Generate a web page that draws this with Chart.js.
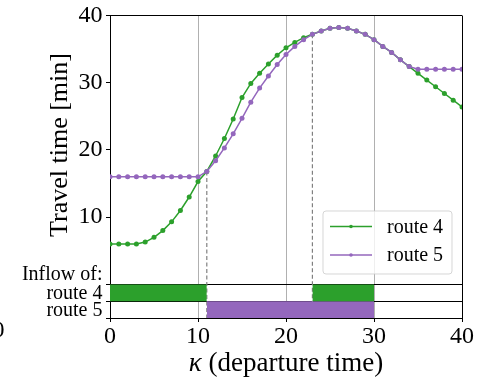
<!DOCTYPE html>
<html><head><meta charset="utf-8">
<script src="https://cdn.jsdelivr.net/npm/chart.js@4.4.1/dist/chart.umd.min.js"></script>
<style>html,body{margin:0;padding:0;background:#fff}canvas{display:block}</style>
</head><body>
<canvas id="c" width="483" height="377"></canvas>
<script>
// ---------------- data ----------------
const kappa = [0,1,2,3,4,5,6,7,8,9,10,11,12,13,14,15,16,17,18,19,20,21,22,23,24,25,26,27,28,29,30,31,32,33,34,35,36,37,38,39,40];
const route4 = [6.0,6.0,6.0,6.0,6.3,7.0,8.0,9.3,11.0,13.0,15.3,16.8,19.1,21.7,24.6,27.8,29.9,31.4,32.8,34.1,35.2,36.0,36.7,37.2,37.7,38.1,38.2,38.1,37.7,37.2,36.4,35.4,34.5,33.4,32.4,31.4,30.4,29.4,28.4,27.4,26.4];
const route5 = [16.0,16.0,16.0,16.0,16.0,16.0,16.0,16.0,16.0,16.0,16.0,16.8,18.4,20.3,22.4,24.7,27.1,29.2,31.0,32.7,34.2,35.4,36.4,37.2,37.7,38.1,38.2,38.1,37.7,37.2,36.4,35.4,34.5,33.4,32.4,32.0,32.0,32.0,32.0,32.0,32.0];
const seriesNames = ['route 4', 'route 5'];
const switchTimes = [11, 23];
const inflowRoute4 = [[0, 11], [23, 30]];
const inflowRoute5 = [[11, 30]];
const xTicks = [0, 10, 20, 30, 40];
const yTicks = [10, 20, 30, 40];
const inflowTitle = 'Inflow of:';
const inflowRows = ['route 4', 'route 5'];
const xTitleMath = 'κ';
const xTitleText = ' (departure time)';
const yTitle = 'Travel time [min]';

// ---------------- styling / layout ----------------
const GREEN = '#2ca02c', PURPLE = '#9467bd';
const FONT = '"Liberation Serif", "Times New Roman", serif';
const BAND = 2.5;          // height of one inflow row (in y units, below 0)
const YMIN = -BAND * inflowRows.length, YMAX = 40;

const rowColors = [GREEN, PURPLE];
const rowIntervals = [inflowRoute4, inflowRoute5];

// y tick spec
const yTickSpec = [];
yTickSpec.push({value: YMIN, label: '', mark: true, small: false, line: false});
for (let i = inflowRows.length - 1; i >= 0; i--) {
  yTickSpec.push({value: -(i + 0.5) * BAND - 0.2, label: inflowRows[i], mark: false, small: true, line: false});
  yTickSpec.push({value: -i * BAND, label: '', mark: true, small: false, line: true});
}
yTickSpec.push({value: 1.44, label: inflowTitle, mark: false, small: true, line: false});
yTicks.forEach(v => yTickSpec.push({value: v, label: String(v), mark: true, small: false, line: v === YMAX}));
const specOf = v => yTickSpec.find(s => Math.abs(s.value - v) < 1e-9);

const datasets = [];
// curves
datasets.push({
  label: seriesNames[0], data: kappa.map((k, i) => ({x: k, y: route4[i]})),
  borderColor: GREEN, backgroundColor: GREEN, borderWidth: 1.5,
  pointRadius: 2.5, pointBorderWidth: 0, pointBackgroundColor: GREEN, tension: 0, order: 3, fill: false
});
datasets.push({
  label: seriesNames[1], data: kappa.map((k, i) => ({x: k, y: route5[i]})),
  borderColor: PURPLE, backgroundColor: PURPLE, borderWidth: 1.5,
  pointRadius: 2.5, pointBorderWidth: 0, pointBackgroundColor: PURPLE, tension: 0, order: 2, fill: false
});
// dashed switch lines
switchTimes.forEach(t => {
  const idx = kappa.indexOf(t);
  datasets.push({
    label: '_switch', data: [{x: t, y: route5[idx]}, {x: t, y: YMIN}],
    borderColor: '#808080', borderWidth: 1.2, borderDash: [4, 2.5], pointRadius: 0, fill: false, order: 4
  });
});
// inflow bars (filled strips)
rowIntervals.forEach((ints, r) => {
  ints.forEach(([a, b]) => {
    datasets.push({
      label: '_bar', data: [{x: a, y: -r * BAND}, {x: b, y: -r * BAND}],
      borderColor: 'rgba(0,0,0,0)', borderWidth: 0, pointRadius: 0,
      backgroundColor: rowColors[r], fill: {value: -(r + 1) * BAND}, order: 1
    });
  });
});

const overlay = {
  id: 'overlay',
  afterDraw(chart) {
    const ctx = chart.ctx;
    const area = chart.chartArea;
    ctx.save();
    // y title
    ctx.fillStyle = '#000';
    ctx.font = '26px ' + FONT;
    ctx.textAlign = 'center'; ctx.textBaseline = 'middle';
    ctx.translate(60, 145); ctx.rotate(-Math.PI / 2);
    ctx.fillText(yTitle, 0, 0);
    ctx.restore();

    // x title
    ctx.save();
    ctx.fillStyle = '#000';
    ctx.textBaseline = 'alphabetic'; ctx.textAlign = 'left';
    const fMath = 'italic 27px ' + FONT, fText = '27px ' + FONT;
    ctx.font = fMath; const w1 = ctx.measureText(xTitleMath).width;
    ctx.font = fText; const w2 = ctx.measureText(xTitleText).width;
    const cx = (area.left + area.right) / 2;
    let x0 = cx - (w1 + w2) / 2;
    ctx.font = fMath; ctx.fillText(xTitleMath, x0, 370.5);
    ctx.font = fText; ctx.fillText(xTitleText, x0 + w1, 370.5);
    // clipped neighbour label at far left
    ctx.font = '24px ' + FONT; ctx.textAlign = 'right'; ctx.textBaseline = 'middle';
    ctx.fillText('0', 4.5, 331);
    ctx.restore();

    // legend
    ctx.save();
    const lx = 323, ly = 211, lw = 129, lh = 63, rr = 3;
    ctx.beginPath();
    ctx.moveTo(lx + rr, ly); ctx.lineTo(lx + lw - rr, ly); ctx.arcTo(lx + lw, ly, lx + lw, ly + rr, rr);
    ctx.lineTo(lx + lw, ly + lh - rr); ctx.arcTo(lx + lw, ly + lh, lx + lw - rr, ly + lh, rr);
    ctx.lineTo(lx + rr, ly + lh); ctx.arcTo(lx, ly + lh, lx, ly + lh - rr, rr);
    ctx.lineTo(lx, ly + rr); ctx.arcTo(lx, ly, lx + rr, ly, rr); ctx.closePath();
    ctx.fillStyle = 'rgba(255,255,255,0.8)'; ctx.fill();
    ctx.strokeStyle = 'rgba(204,204,204,0.8)'; ctx.lineWidth = 1; ctx.stroke();
    const ys = [226.5, 255];
    [0, 1].forEach(i => {
      const ds = chart.data.datasets[i];
      ctx.strokeStyle = ds.borderColor; ctx.lineWidth = 1.5;
      ctx.beginPath(); ctx.moveTo(330, ys[i]); ctx.lineTo(372, ys[i]); ctx.stroke();
      ctx.fillStyle = ds.borderColor;
      ctx.beginPath(); ctx.arc(351, ys[i], 1.8, 0, Math.PI * 2); ctx.fill();
      ctx.fillStyle = '#000'; ctx.font = '20px ' + FONT;
      ctx.textAlign = 'left'; ctx.textBaseline = 'middle';
      ctx.fillText(ds.label, 387, ys[i] + 1);
    });
    ctx.restore();
  }
};

new Chart(document.getElementById('c'), {
  type: 'line',
  data: {datasets},
  options: {
    responsive: false, animation: false, devicePixelRatio: 1,
    layout: {padding: {left: 0, top: 12, right: 21, bottom: 0}},
    plugins: {legend: {display: false}, tooltip: {enabled: false}},
    scales: {
      x: {
        type: 'linear', min: 0, max: 40, z: 1,
        afterBuildTicks: s => { s.ticks = xTicks.map(v => ({value: v})); },
        afterFit: s => { s.height = 59; },
        ticks: {font: {family: FONT, size: 24, lineHeight: 1}, color: '#000', padding: 3, maxRotation: 0, autoSkip: false},
        grid: {
          color: c => { const v = c.tick ? c.tick.value : null; return v === 40 ? '#000' : (v === 0 ? 'rgba(0,0,0,0)' : '#b0b0b0'); },
          lineWidth: 1, tickColor: '#000', tickLength: 4, drawOnChartArea: true
        },
        border: {color: '#000', width: 1}
      },
      y: {
        type: 'linear', min: YMIN, max: YMAX, z: 1,
        afterBuildTicks: s => { s.ticks = yTickSpec.map(t => ({value: t.value})); },
        afterFit: s => { s.width = 110; },
        ticks: {
          autoSkip: false, color: '#000', padding: 3.5,
          callback: v => { const s = specOf(v); return s ? s.label : ''; },
          font: c => { const s = c.tick ? specOf(c.tick.value) : null; return {family: FONT, size: (s && s.small) ? 20 : 24, lineHeight: 1}; }
        },
        grid: {
          color: c => { const s = c.tick ? specOf(c.tick.value) : null; return (s && s.line) ? '#000' : 'rgba(0,0,0,0)'; },
          tickColor: c => { const s = c.tick ? specOf(c.tick.value) : null; return (s && s.mark) ? '#000' : 'rgba(0,0,0,0)'; },
          lineWidth: 1, tickLength: 4
        },
        border: {color: '#000', width: 1}
      }
    }
  },
  plugins: [overlay]
});
</script>
</body></html>
